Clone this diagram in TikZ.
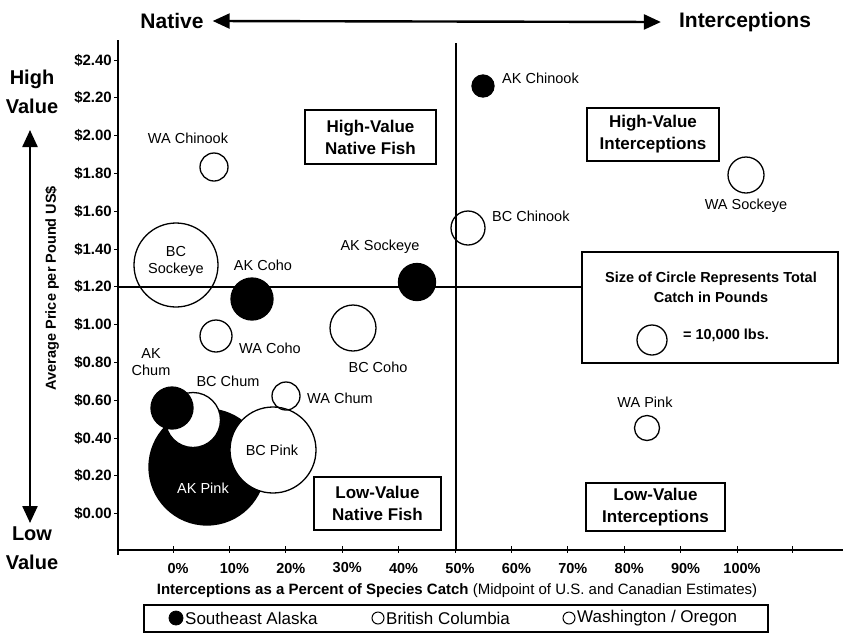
\documentclass[tikz,border=0pt]{standalone}
\usepackage{fontspec}
\setmainfont{Liberation Sans}
\usetikzlibrary{arrows.meta}
\tikzset{
  bub/.style={circle, draw=black, inner sep=0pt, line width=1.3pt},
  fillb/.style={bub, fill=black},
  whiteb/.style={bub, fill=white},
  lbl/.style={font=\fontsize{14.5}{17}\selectfont, inner sep=0pt, align=center},
  ytick/.style={font=\bfseries\fontsize{15}{16}\selectfont, inner sep=0pt, anchor=east},
  xtick/.style={font=\bfseries\fontsize{14.5}{16}\selectfont, inner sep=0pt},
  quad/.style={draw=black, line width=1.3pt, font=\bfseries\fontsize{17}{22}\selectfont, align=center, inner sep=0pt},
  bigarrow/.style={line width=2.4pt, {Triangle[length=17pt,width=15pt]}-{Triangle[length=17pt,width=15pt]}},
  axisline/.style={line width=1.4pt},
  head/.style={font=\bfseries\fontsize{21}{28}\selectfont, inner sep=0pt, align=center},
}
\begin{document}
\begin{tikzpicture}[x=1pt,y=-1pt]
\useasboundingbox (0,0) rectangle (843,633);

% axes
\coordinate (ytop) at (118,40);
\coordinate (ybot) at (118,555);
\coordinate (xl) at (118,550);
\coordinate (xr) at (843,550);
\coordinate (mtop) at (456,43);
\coordinate (mbot) at (456,550);
\coordinate (hl) at (118,287);
\draw[axisline] (ytop) -- (ybot);
\draw[axisline] (xl) -- (xr);
\draw[line width=1.3pt] (mtop) -- (mbot);

% y ticks
\foreach \v [count=\i from 0] in {2.40,2.20,2.00,1.80,1.60,1.40,1.20,1.00,0.80,0.60,0.40,0.20,0.00}{
  \pgfmathsetmacro{\yy}{60+37.8*\i}
  \draw[line width=1pt] (114,\yy) -- (118,\yy);
  \node[ytick] (yt\i) at (112,\yy) {\$\v};
}
% x ticks
\foreach \p [count=\i from 0] in {0,10,20,30,40,50,60,70,80,90,100}{
  \pgfmathsetmacro{\xx}{173+56.4*\i}
  \draw[line width=1pt] (\xx,546) -- (\xx,553);
  \node[xtick] (xt\i) at (\xx+5,568) {\p\%};
}
\draw[line width=1pt] (792,546) -- (792,553);

% size box
\node[draw=black, line width=1.3pt, minimum width=256pt, minimum height=111pt, inner sep=0pt] (sizebox) at (710,307.5) {};
\node[font=\bfseries\fontsize{14.5}{20}\selectfont, align=center, inner sep=0pt] (sizetxt) at (711,287) {Size of Circle Represents Total\\Catch in Pounds};
\node[bub, minimum size=30pt] (sizecirc) at (652,340) {};
\node[font=\bfseries\fontsize{14.5}{16}\selectfont, inner sep=0pt] (sizelbl) at (726,335) {= 10,000 lbs.};

% horizontal divider to size box
\draw[line width=1.3pt] (hl) -- (hl -| sizebox.west);

% quadrant boxes
\node[quad, minimum width=131pt, minimum height=54pt] (hvn) at (370.5,137) {High-Value\\Native Fish};
\node[quad, minimum width=132pt, minimum height=53pt] (hvi) at (653,134.5) {High-Value\\Interceptions};
\node[quad, minimum width=127pt, minimum height=53pt] (lvn) at (377.5,503.5) {Low-Value\\Native Fish};
\node[quad, minimum width=139pt, minimum height=48pt] (lvi) at (655.5,507) {Low-Value\\Interceptions};

% bubbles (draw order matters)
\node[fillb, minimum size=116pt] (akpink) at (207,467) {};
\node[whiteb, minimum size=86pt] (bcpink) at (273,450) {};
\node[whiteb, minimum size=55pt] (bcchum) at (193,420) {};
\node[fillb, minimum size=42pt] (akchum) at (172,408) {};
\node[bub, minimum size=84pt] (bcsock) at (176,265) {};
\node[fillb, minimum size=42pt] (akcoho) at (252,299) {};
\node[fillb, minimum size=37pt] (aksock) at (417,282) {};
\node[bub, minimum size=34pt] (bcchin) at (468,228) {};
\node[bub, minimum size=32pt] (wacoho) at (216,336) {};
\node[bub, minimum size=46pt] (bccoho) at (353,328) {};
\node[bub, minimum size=28pt] (wachum) at (286,396) {};
\node[bub, minimum size=28pt] (wachin) at (214,167) {};
\node[fillb, minimum size=22pt] (akchin) at (483,86) {};
\node[bub, minimum size=36pt] (wasock) at (746,175) {};
\node[bub, minimum size=25pt] (wapink) at (647,428) {};

% bubble labels
\node[lbl, anchor=west] (lakchin) at (502,78) {AK Chinook};
\node[lbl] (lwachin) at (188,138) {WA Chinook};
\node[lbl] (lbcsock) at (176,261) {BC\\Sockeye};
\node[lbl] (lakcoho) at (263,265) {AK Coho};
\node[lbl] (laksock) at (380,247) {AK Sockeye};
\node[lbl, anchor=west] (lbcchin) at (492,216) {BC Chinook};
\node[lbl] (lwasock) at (746,206) {WA Sockeye};
\node[lbl] (lwacoho) at (270,348) {WA Coho};
\node[lbl] (lbccoho) at (378,367) {BC Coho};
\node[lbl] (lakchum) at (151,362) {AK\\Chum};
\node[lbl] (lbcchum) at (228,381) {BC Chum};
\node[lbl] (lwachum) at (340,398) {WA Chum};
\node[lbl] (lwapink) at (645,402) {WA Pink};
\node[lbl] (lbcpink) at (272,450) {BC Pink};
\node[lbl, text=white] (lakpink) at (203,488) {AK Pink};

% headings and arrows
\node[head] (nat) at (172,21) {Native};
\node[head] (intc) at (745,22) {Interceptions};
\draw[bigarrow] ([xshift=9pt]nat.east) -- ([xshift=-18pt]intc.west);

\node[head, font=\bfseries\fontsize{20}{29}\selectfont] (high) at (32,92) {High\\Value};
\node[head, font=\bfseries\fontsize{20}{29}\selectfont] (low) at (32,548) {Low\\Value};
\coordinate (vtop) at (30,130);
\coordinate (vbot) at (30,523);
\draw[bigarrow] (vtop) -- (vbot);

% axis titles
\node[font=\bfseries\fontsize{14.5}{16}\selectfont, rotate=90, inner sep=0pt] (ytitle) at (52,288) {Average Price per Pound US\$};
\node[font=\fontsize{15}{16}\selectfont, inner sep=0pt] (xtitle) at (457,591) {\textbf{Interceptions as a Percent of Species Catch} (Midpoint of U.S. and Canadian Estimates)};

% legend
\node[draw=black, line width=1.3pt, minimum width=624pt, minimum height=27pt, inner sep=0pt] (legend) at (456,618.5) {};
\node[fillb, minimum size=14pt, line width=0.8pt] (lg1) at (176,618) {};
\node[font=\fontsize{17}{20}\selectfont, inner sep=0pt, anchor=west] (lgt1) at (185,618) {Southeast Alaska};
\node[bub, minimum size=12pt, line width=1pt] (lg2) at (378,618) {};
\node[font=\fontsize{17}{20}\selectfont, inner sep=0pt, anchor=west] (lgt2) at (386,618) {British Columbia};
\node[bub, minimum size=12pt, line width=1pt] (lg3) at (569,618) {};
\node[font=\fontsize{17}{20}\selectfont, inner sep=0pt, anchor=west] (lgt3) at (577,618) {Washington / Oregon};
\end{tikzpicture}
\end{document}
